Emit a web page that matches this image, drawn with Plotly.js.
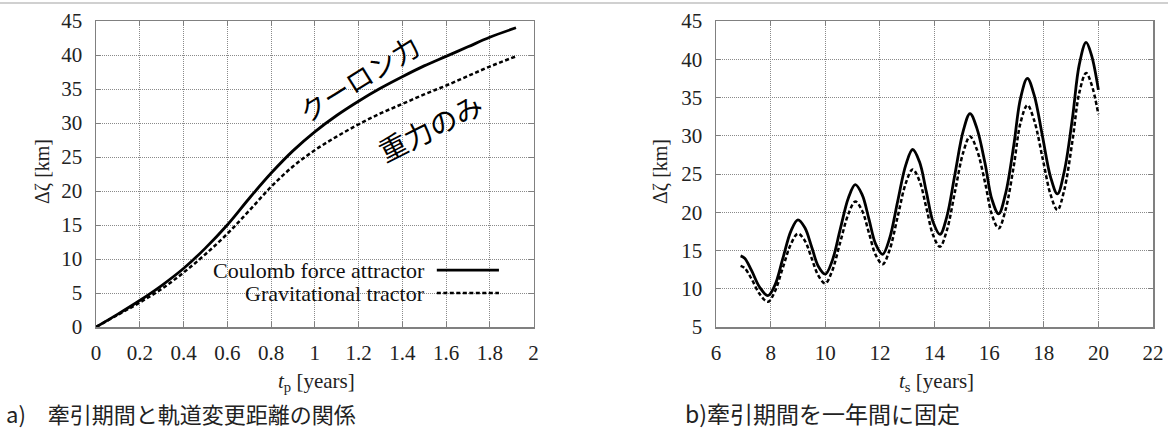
<!DOCTYPE html>
<html>
<head>
<meta charset="utf-8">
<script src="https://cdn.plot.ly/plotly-3.0.1.min.js"></script>
<style>html,body{margin:0;padding:0;background:#fff;}#chart{width:1168px;height:430px;}</style>
</head>
<body>
<div id="chart"></div>
<script>
// Panel a: deviation vs. tractor duration
const tpCoulomb = [0, 0.1, 0.2, 0.3, 0.4, 0.5, 0.6, 0.7, 0.8, 0.9, 1.0, 1.1, 1.2, 1.3, 1.4, 1.5, 1.6, 1.7, 1.8, 1.92];
const zCoulomb  = [0, 1.9, 3.9, 6.1, 8.6, 11.6, 15.0, 18.9, 22.6, 25.9, 28.7, 31.1, 33.2, 35.1, 36.8, 38.4, 39.8, 41.2, 42.6, 44.0];
const tpGrav    = [0, 0.1, 0.2, 0.3, 0.4, 0.5, 0.6, 0.7, 0.8, 0.9, 1.0, 1.1, 1.2, 1.3, 1.4, 1.5, 1.6, 1.7, 1.8, 1.92];
const zGrav     = [0, 1.8, 3.6, 5.6, 8.0, 10.7, 13.7, 17.1, 20.6, 23.6, 26.0, 28.0, 29.8, 31.4, 32.8, 34.2, 35.5, 36.9, 38.3, 39.8];

// Panel b: deviation vs. start time (tractor duration fixed to one year)
const tsCoulomb = [6.9, 7.05, 7.3, 7.6, 7.9, 8.15, 8.45, 8.75, 9.0, 9.25, 9.5, 9.75, 10.0, 10.25, 10.55, 10.85, 11.1, 11.35, 11.6, 11.85, 12.1, 12.35, 12.65, 12.95, 13.2, 13.45, 13.7, 13.95, 14.2, 14.45, 14.75, 15.05, 15.3, 15.55, 15.85, 16.1, 16.35, 16.6, 16.9, 17.15, 17.4, 17.65, 17.95, 18.25, 18.5, 18.75, 19.05, 19.3, 19.55, 19.75, 20.0];
const zsCoulomb = [14.3, 14.0, 12.4, 10.2, 9.1, 10.4, 14.0, 17.6, 19.0, 18.0, 15.5, 12.9, 11.9, 13.6, 17.8, 21.9, 23.6, 22.3, 19.1, 15.8, 14.5, 16.5, 21.4, 26.2, 28.2, 26.6, 22.7, 18.7, 17.1, 19.4, 25.0, 30.6, 32.9, 31.0, 26.4, 21.7, 19.8, 22.4, 28.7, 34.9, 37.5, 35.3, 30.0, 24.6, 22.4, 25.3, 32.3, 39.3, 42.2, 40.5, 36.0];
const tsGrav    = [6.9, 7.05, 7.3, 7.6, 7.9, 8.15, 8.45, 8.75, 9.0, 9.25, 9.5, 9.75, 10.0, 10.25, 10.55, 10.85, 11.1, 11.35, 11.6, 11.85, 12.1, 12.35, 12.65, 12.95, 13.2, 13.45, 13.7, 13.95, 14.2, 14.45, 14.75, 15.05, 15.3, 15.55, 15.85, 16.1, 16.35, 16.6, 16.9, 17.15, 17.4, 17.65, 17.95, 18.25, 18.5, 18.75, 19.05, 19.3, 19.55, 19.75, 20.0];
const zsGrav    = [13.0, 12.7, 11.3, 9.3, 8.3, 9.6, 12.8, 15.9, 17.2, 16.3, 14.0, 11.7, 10.7, 12.3, 16.1, 19.8, 21.4, 20.2, 17.3, 14.4, 13.2, 15.0, 19.4, 23.8, 25.6, 24.1, 20.6, 17.0, 15.5, 17.6, 22.7, 27.8, 29.9, 28.2, 23.9, 19.7, 17.9, 20.3, 26.0, 31.7, 34.0, 32.0, 27.2, 22.3, 20.3, 22.9, 29.3, 35.6, 38.2, 36.7, 32.8];

const xTicksA = [0, 0.2, 0.4, 0.6, 0.8, 1, 1.2, 1.4, 1.6, 1.8, 2];
const xTickTextA = ['0', '0.2', '0.4', '0.6', '0.8', '1', '1.2', '1.4', '1.6', '1.8', '2'];
const xTicksB = [6, 8, 10, 12, 14, 16, 18, 20, 22];
const yTicksA = [0, 5, 10, 15, 20, 25, 30, 35, 40, 45];
const yTicksB = [5, 10, 15, 20, 25, 30, 35, 40, 45];

const legendNames = ['Coulomb force attractor', 'Gravitational tractor'];
const captionA = 'a)\u3000牽引期間と軌道変更距離の関係';
const captionB = 'b)牽引期間を一年間に固定';

const serif = 'Liberation Serif';
const cjk = 'Noto Sans CJK JP';

const solid = {color: '#000', width: 2.8, shape: 'spline', smoothing: 1};
const dashed = {color: '#000', width: 2.5, dash: '4px,2.5px', shape: 'spline', smoothing: 1};

const traces = [
  {x: tpCoulomb, y: zCoulomb, mode: 'lines', line: solid, name: legendNames[0], xaxis: 'x', yaxis: 'y', showlegend: false},
  {x: tpGrav, y: zGrav, mode: 'lines', line: dashed, name: legendNames[1], xaxis: 'x', yaxis: 'y', showlegend: false},
  {x: tsCoulomb, y: zsCoulomb, mode: 'lines', line: solid, name: legendNames[0], xaxis: 'x2', yaxis: 'y2', showlegend: false},
  {x: tsGrav, y: zsGrav, mode: 'lines', line: dashed, name: legendNames[1], xaxis: 'x2', yaxis: 'y2', showlegend: false}
];

const axisCommon = {
  showline: true, mirror: 'allticks', linecolor: '#808080', linewidth: 1.5,
  ticks: 'inside', ticklen: 5, tickcolor: '#808080', tickwidth: 1,
  showgrid: true, gridcolor: '#8a8a8a', gridwidth: 1, griddash: '1px,1px',
  zeroline: false, fixedrange: true,
  tickfont: {family: serif, size: 21, color: '#222'}
};

const yDom = [1 - 327/430, 1 - 21/430];

const layout = {
  width: 1168, height: 430,
  margin: {l: 0, r: 0, t: 0, b: 0},
  paper_bgcolor: '#fff', plot_bgcolor: '#fff',
  font: {family: serif, size: 21, color: '#222'},
  showlegend: false,
  xaxis: Object.assign({}, axisCommon, {domain: [96/1168, 533.5/1168], range: [0, 2], tickvals: xTicksA, ticktext: xTickTextA, anchor: 'y', ticklabelstandoff: 6}),
  yaxis: Object.assign({}, axisCommon, {domain: yDom, range: [0, 45], tickvals: yTicksA, anchor: 'x', ticklabelstandoff: 8}),
  xaxis2: Object.assign({}, axisCommon, {domain: [716/1168, 1153/1168], range: [6, 22], tickvals: xTicksB, anchor: 'y2', ticklabelstandoff: 6}),
  yaxis2: Object.assign({}, axisCommon, {domain: yDom, range: [5, 45], tickvals: yTicksB, anchor: 'x2', ticklabelstandoff: 8}),
  shapes: [
    {type: 'line', xref: 'paper', yref: 'paper', x0: 0, x1: 1, y0: 1 - 3/430, y1: 1 - 3/430, line: {color: '#c0c0c0', width: 1.5}},
    {type: 'line', xref: 'x domain', yref: 'y domain', x0: 0.779, x1: 0.921, y0: 0.186, y1: 0.186, line: {color: '#000', width: 2.8}},
    {type: 'line', xref: 'x domain', yref: 'y domain', x0: 0.779, x1: 0.921, y0: 0.111, y1: 0.111, line: {color: '#000', width: 2.5, dash: '4px,2.5px'}}
  ],
  annotations: [
    {xref: 'x domain', yref: 'y domain', x: 0.757, y: 0.186, xanchor: 'right', yanchor: 'middle', showarrow: false, text: legendNames[0], font: {family: serif, size: 22, color: '#111'}},
    {xref: 'x domain', yref: 'y domain', x: 0.757, y: 0.111, xanchor: 'right', yanchor: 'middle', showarrow: false, text: legendNames[1], font: {family: serif, size: 22, color: '#111'}},
    {xref: 'paper', yref: 'paper', x: 42/1168, y: 1 - 172/430, xanchor: 'center', yanchor: 'middle', showarrow: false, textangle: -90, text: 'Δζ [km]', font: {family: serif, size: 20, color: '#222'}},
    {xref: 'paper', yref: 'paper', x: 660/1168, y: 1 - 172/430, xanchor: 'center', yanchor: 'middle', showarrow: false, textangle: -90, text: 'Δζ [km]', font: {family: serif, size: 20, color: '#222'}},
    {xref: 'paper', yref: 'paper', x: 316/1168, y: 1 - 382/430, xanchor: 'center', yanchor: 'middle', showarrow: false, text: '<i>t</i><sub>p</sub> [years]', font: {family: serif, size: 21, color: '#222'}},
    {xref: 'paper', yref: 'paper', x: 936/1168, y: 1 - 382/430, xanchor: 'center', yanchor: 'middle', showarrow: false, text: '<i>t</i><sub>s</sub> [years]', font: {family: serif, size: 21, color: '#222'}},
    {xref: 'paper', yref: 'paper', x: 4/1168, y: 1 - 413/430, xanchor: 'left', yanchor: 'middle', showarrow: false, text: captionA, font: {family: cjk, size: 22, color: '#222'}},
    {xref: 'paper', yref: 'paper', x: 683/1168, y: 1 - 413/430, xanchor: 'left', yanchor: 'middle', showarrow: false, text: captionB, font: {family: cjk, size: 23, color: '#222'}},
    {xref: 'paper', yref: 'paper', x: 358/1168, y: 1 - 78/430, xanchor: 'center', yanchor: 'middle', showarrow: false, textangle: -32, text: 'クーロン力', font: {family: cjk, size: 27, color: '#000'}},
    {xref: 'paper', yref: 'paper', x: 430/1168, y: 1 - 127/430, xanchor: 'center', yanchor: 'middle', showarrow: false, textangle: -27, text: '重力のみ', font: {family: cjk, size: 28, color: '#000'}}
  ]
};

Plotly.newPlot('chart', traces, layout, {staticPlot: true, displayModeBar: false});
</script>
</body>
</html>
